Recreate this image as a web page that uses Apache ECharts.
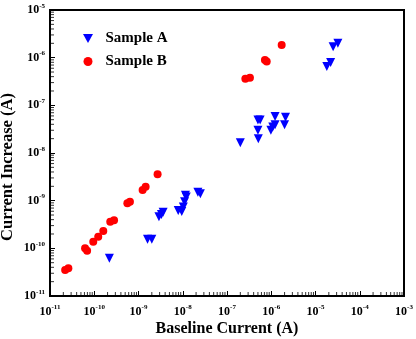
<!DOCTYPE html>
<html>
<head>
<meta charset="utf-8">
<script src="https://cdn.jsdelivr.net/npm/echarts@6/dist/echarts.min.js"></script>
<style>
  html, body { margin: 0; padding: 0; background: #fff; }
  #chart { width: 416px; height: 339px; }
</style>
</head>
<body>
<div id="chart"></div>
<script>
// values: [baseline current, current increase] in A
const sampleA = [
  [2.2e-10, 6.2e-11], [1.6e-9, 1.55e-10], [2.0e-9, 1.55e-10],
  [2.9e-9, 4.6e-10], [3.3e-9, 5.1e-10], [3.6e-9, 5.7e-10],
  [7.9e-9, 6.2e-10], [9.5e-9, 5.9e-10], [1.03e-8, 7.4e-10],
  [1.1e-8, 9.5e-10], [1.2e-8, 1.2e-9], [1.15e-8, 1.3e-9],
  [2.2e-8, 1.5e-9], [2.5e-8, 1.4e-9],
  [2.0e-7, 1.65e-8], [5.1e-7, 2.0e-8], [5.0e-7, 3.0e-8],
  [5.0e-7, 4.9e-8], [5.6e-7, 4.9e-8], [9.8e-7, 3.0e-8],
  [1.08e-6, 3.5e-8], [1.22e-6, 3.9e-8], [1.22e-6, 5.8e-8],
  [2.0e-6, 3.9e-8], [2.1e-6, 5.6e-8],
  [1.8e-5, 6.5e-7], [2.2e-5, 7.9e-7], [2.5e-5, 1.7e-6], [3.2e-5, 2.0e-6]
];
const sampleB = [
  [2.2e-11, 3.5e-11], [2.6e-11, 3.8e-11], [6.2e-11, 1.0e-10],
  [6.9e-11, 8.9e-11], [9.5e-11, 1.38e-10], [1.23e-10, 1.76e-10],
  [1.6e-10, 2.3e-10], [2.3e-10, 3.6e-10], [2.8e-10, 3.9e-10],
  [5.6e-10, 8.8e-10], [6.4e-10, 9.5e-10], [1.24e-9, 1.67e-9],
  [1.45e-9, 1.95e-9], [2.7e-9, 3.6e-9],
  [2.6e-7, 3.6e-7], [3.3e-7, 3.8e-7], [7.2e-7, 8.9e-7],
  [7.9e-7, 8.3e-7], [1.72e-6, 1.85e-6]
];
const xRange = [1e-11, 1e-3];
const yRange = [1e-11, 1e-5];

const font = 'Liberation Serif';

// log minor ticks (2..9 in each decade), drawn as small marks on the axes
function minorTicks(lo, hi) {
  const out = [];
  for (let e = Math.round(Math.log10(lo)); e < Math.round(Math.log10(hi)); e++) {
    for (let k = 2; k <= 9; k++) out.push(k * Math.pow(10, e));
  }
  return out;
}
const xMinor = minorTicks(xRange[0], xRange[1]).map(v => [v, yRange[0]]);
const yMinor = minorTicks(yRange[0], yRange[1]).map(v => [xRange[0], v]);

const powLabel = v => '{b|10}{s|' + Math.round(Math.log10(v)) + '}';
const labelRich = {
  b: { fontFamily: font, fontWeight: 'bold', fontSize: 12, color: '#000' },
  s: { fontFamily: font, fontWeight: 'bold', fontSize: 7, color: '#000', padding: [0, 0, 8, 0] }
};

const chart = echarts.init(document.getElementById('chart'));
chart.setOption({
  animation: false,
  backgroundColor: '#fff',
  grid: {
    left: 50, right: 12, top: 10, bottom: 43,
    outerBoundsMode: 'none',
    show: true, borderColor: '#000', borderWidth: 2
  },
  legend: {
    data: [
      { name: 'Sample A', icon: 'path://M0,0L10,0L5,9Z' },
      { name: 'Sample B', icon: 'circle' }
    ],
    orient: 'vertical',
    left: 78, top: 26,
    itemWidth: 25, itemHeight: 9, itemGap: 8,
    textStyle: { fontFamily: font, fontWeight: 'bold', fontSize: 15, color: '#000' }
  },
  xAxis: {
    type: 'log', logBase: 10,
    min: xRange[0], max: xRange[1],
    name: 'Baseline Current (A)',
    nameLocation: 'middle', nameGap: 25, nameMoveOverlap: false,
    nameTextStyle: { fontFamily: font, fontWeight: 'bold', fontSize: 16, color: '#000' },
    axisLine: { lineStyle: { color: '#000', width: 2 } },
    axisTick: { inside: true, length: 5, lineStyle: { color: '#000', width: 1 } },
    axisLabel: { formatter: powLabel, rich: labelRich, margin: 8 },
    splitLine: { show: false }
  },
  yAxis: {
    type: 'log', logBase: 10,
    min: yRange[0], max: yRange[1],
    name: 'Current Increase (A)',
    nameLocation: 'middle', nameGap: 34, nameMoveOverlap: false,
    nameTextStyle: {
      fontFamily: font, fontWeight: 'bold', fontSize: 16.5, color: '#000',
      padding: [0, 28, 0, 0]
    },
    axisLine: { lineStyle: { color: '#000', width: 2 } },
    axisTick: { inside: true, length: 5, lineStyle: { color: '#000', width: 1 } },
    axisLabel: { formatter: powLabel, rich: labelRich, margin: 5 },
    splitLine: { show: false }
  },
  series: [
    {
      name: 'Sample A', type: 'scatter', data: sampleA,
      symbol: 'triangle', symbolRotate: 180, symbolSize: 9,
      itemStyle: { color: '#0000ff', opacity: 1 }
    },
    {
      name: 'Sample B', type: 'scatter', data: sampleB,
      symbol: 'circle', symbolSize: 8,
      itemStyle: { color: '#ff0000', opacity: 1 }
    },
    {
      type: 'scatter', data: xMinor, silent: true, clip: false,
      symbol: 'rect', symbolSize: [1, 3], symbolOffset: [0, -2.5],
      itemStyle: { color: '#000' }
    },
    {
      type: 'scatter', data: yMinor, silent: true, clip: false,
      symbol: 'rect', symbolSize: [3, 1], symbolOffset: [2.5, 0],
      itemStyle: { color: '#000' }
    }
  ]
});
</script>
</body>
</html>
